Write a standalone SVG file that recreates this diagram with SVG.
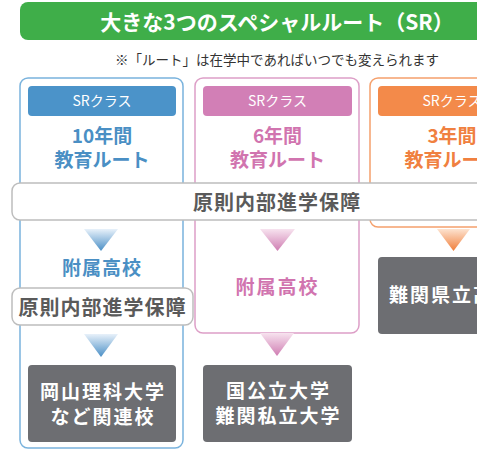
<svg xmlns="http://www.w3.org/2000/svg" width="477" height="450" viewBox="0 0 477 450">
<style>
.t{font-family:"Noto Sans CJK JP","Noto Sans",sans-serif;text-anchor:middle}
.b{font-weight:bold}
.hdr{fill:#fff;font-size:14px}
.big{font-size:19px;font-weight:bold}
.wt{fill:#fff;font-size:19px;font-weight:bold;letter-spacing:2px}
.band{fill:#fff;stroke:#bdbdbd;stroke-width:1.5}
.bandt{fill:#5a5a5a;font-size:20px;font-weight:bold;letter-spacing:1px}
.gray{fill:#6d6e72}
</style>
<defs>
<linearGradient id="gb" x1="0" y1="0" x2="0" y2="1"><stop offset="0" stop-color="#e8f1fa"/><stop offset="1" stop-color="#4a8fc6"/></linearGradient>
<linearGradient id="gp" x1="0" y1="0" x2="0" y2="1"><stop offset="0" stop-color="#f7e3ef"/><stop offset="1" stop-color="#cf7db2"/></linearGradient>
<linearGradient id="go" x1="0" y1="0" x2="0" y2="1"><stop offset="0" stop-color="#fde3d0"/><stop offset="1" stop-color="#f07e3a"/></linearGradient>
</defs>
<g id="title">
<rect x="20" y="2" width="480" height="38" rx="8" fill="#3fae49"/>
<text class="t b" x="277" y="30" font-size="21" fill="#fff">大きな3つのスペシャルルート（SR）</text>
<text class="t" x="277" y="65" font-size="13.5" fill="#333">※「ルート」は在学中であればいつでも変えられます</text>
</g>
<g id="col1">
<rect x="20" y="78" width="163" height="370" rx="8" fill="#fff" stroke="#7ab3dd" stroke-width="1.5"/>
<rect x="28" y="86" width="148" height="30" rx="4" fill="#4b93c9"/>
<text class="t hdr" x="102" y="106">SRクラス</text>
<text class="t big" x="102" y="143" fill="#4a8fc4">10年間</text>
<text class="t big" x="102" y="166.5" fill="#4a8fc4">教育ルート</text>
</g>
<g id="col2">
<rect x="195" y="78" width="164" height="255" rx="8" fill="#fff" stroke="#dd9fc7" stroke-width="1.5"/>
<rect x="203" y="86" width="149" height="30" rx="4" fill="#d27fb6"/>
<text class="t hdr" x="277.5" y="106">SRクラス</text>
<text class="t big" x="277.5" y="143" fill="#d174af">6年間</text>
<text class="t big" x="277.5" y="166.5" fill="#d174af">教育ルート</text>
</g>
<g id="col3">
<rect x="370" y="78" width="170" height="149" rx="8" fill="#fff" stroke="#f5a06c" stroke-width="1.5"/>
<rect x="378" y="86" width="170" height="30" rx="4" fill="#f38a4a"/>
<text class="t hdr" x="452" y="106">SRクラス</text>
<text class="t big" x="452" y="143" fill="#f08040">3年間</text>
<text class="t big" x="452" y="166.5" fill="#f08040">教育ルート</text>
</g>
<g id="band-main">
<rect class="band" x="12" y="183" width="490" height="37" rx="8"/>
<text class="t bandt" x="277" y="210">原則内部進学保障</text>
</g>
<g id="connectors">
<polygon points="84,229 118,229 101,251" fill="url(#gb)"/>
<polygon points="260,229 295,229 277.5,251" fill="url(#gp)"/>
<polygon points="437,229 470,229 453.5,251" fill="url(#go)"/>
<polygon points="84,334 118,334 101,357" fill="url(#gb)"/>
<polygon points="260,333 294,333 277,356" fill="url(#gp)"/>
</g>
<g id="fuzoku1">
<text class="t big" x="102" y="275" fill="#4a8fc4" letter-spacing="1">附属高校</text>
</g>
<g id="band-sub">
<rect class="band" x="12" y="288" width="181" height="37" rx="8"/>
<text class="t bandt" x="102.5" y="315" font-size="19">原則内部進学保障</text>
</g>
<g id="fuzoku2">
<text class="t big" x="277.5" y="294" fill="#d174af" letter-spacing="2">附属高校</text>
</g>
<g id="dest1">
<rect class="gray" x="28" y="365" width="148" height="77" rx="4"/>
<text class="t wt" x="103" y="399">岡山理科大学</text>
<text class="t wt" x="103" y="424">など関連校</text>
</g>
<g id="dest2">
<rect class="gray" x="203" y="365" width="149" height="77" rx="4"/>
<text class="t wt" x="278.5" y="398">国公立大学</text>
<text class="t wt" x="278.5" y="423">難関私立大学</text>
</g>
<g id="dest3">
<rect class="gray" x="378" y="257" width="170" height="77" rx="4"/>
<text class="t wt" x="389" y="302" style="text-anchor:start">難関県立高校</text>
</g>
</svg>
